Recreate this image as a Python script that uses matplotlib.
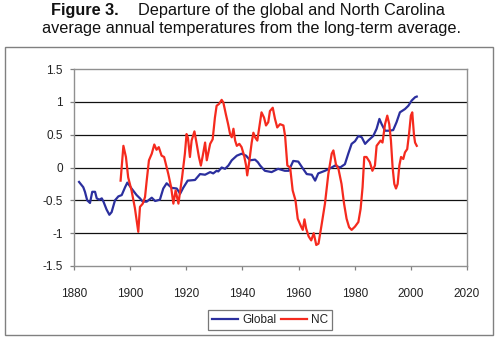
import matplotlib
matplotlib.use("Agg")
import matplotlib.pyplot as plt
from matplotlib.patches import Rectangle

plt.rcParams['font.family'] = ['Liberation Sans', 'DejaVu Sans']

# Global temperature departure (deg F), smoothed
global_years = [1881.8, 1883.3, 1883.9, 1884.7, 1885.7, 1886.5, 1887.5, 1888.1, 1889.0, 1889.9,
                1890.5, 1891.6, 1892.6, 1893.4, 1894.6, 1895.8, 1897.0, 1898.2, 1899.0, 1900.5,
                1902.3, 1903.5, 1904.5, 1905.9, 1907.7, 1908.9, 1910.6, 1911.8, 1913.0, 1914.8,
                1916.6, 1917.8, 1918.9, 1920.5, 1923.1, 1924.9, 1926.7, 1928.5, 1929.6, 1930.8,
                1931.4, 1932.6, 1933.8, 1935.0, 1936.2, 1938.0, 1939.7, 1941.3, 1942.7, 1944.5,
                1945.5, 1946.3, 1948.0, 1950.4, 1952.7, 1955.1, 1956.5, 1958.1, 1959.9, 1961.3,
                1962.9, 1964.7, 1965.9, 1967.0, 1969.4, 1971.8, 1973.0, 1974.8, 1976.5, 1977.7,
                1978.9, 1980.1, 1981.3, 1982.5, 1983.7, 1984.8, 1986.6, 1987.8, 1988.8, 1989.6,
                1990.8, 1992.3, 1993.7, 1994.9, 1996.1, 1997.9, 1999.1, 2000.3, 2001.5, 2002.1]
global_vals = [-0.22, -0.30, -0.37, -0.50, -0.54, -0.37, -0.37, -0.47, -0.49, -0.47,
               -0.52, -0.64, -0.72, -0.68, -0.50, -0.44, -0.42, -0.30, -0.23, -0.32,
               -0.42, -0.47, -0.52, -0.52, -0.46, -0.51, -0.49, -0.32, -0.24, -0.31,
               -0.32, -0.40, -0.31, -0.20, -0.19, -0.10, -0.11, -0.07, -0.09, -0.05,
               -0.06, 0.00, -0.02, 0.03, 0.11, 0.18, 0.21, 0.18, 0.11, 0.12,
               0.08, 0.03, -0.05, -0.07, -0.02, -0.05, -0.05, 0.10, 0.09, 0.00,
               -0.10, -0.11, -0.20, -0.09, -0.05, 0.00, 0.03, 0.00, 0.05, 0.21,
               0.36, 0.40, 0.48, 0.46, 0.36, 0.41, 0.48, 0.59, 0.74, 0.66,
               0.56, 0.56, 0.57, 0.69, 0.84, 0.89, 0.94, 1.02, 1.07, 1.08]

# North Carolina temperature departure (deg F), smoothed
nc_years = [1896.6, 1897.6, 1898.5, 1899.3, 1900.5, 1901.7, 1902.9, 1903.5, 1904.5, 1905.3,
            1905.9, 1906.7, 1907.7, 1908.6, 1909.4, 1910.2, 1911.2, 1912.1, 1913.6, 1914.6,
            1915.4, 1916.2, 1917.2, 1918.5, 1919.5, 1920.1, 1920.6, 1921.3, 1921.9, 1922.9,
            1923.7, 1924.5, 1925.2, 1926.0, 1926.7, 1927.3, 1928.5, 1929.4, 1930.2, 1930.8,
            1931.7, 1932.6, 1933.2, 1934.1, 1934.9, 1935.6, 1936.2, 1936.8, 1937.4, 1938.0,
            1938.9, 1939.7, 1940.6, 1941.3, 1941.7, 1942.4, 1943.3, 1943.9, 1944.5, 1945.3,
            1946.0, 1946.8, 1947.7, 1948.4, 1949.2, 1949.8, 1950.8, 1951.6, 1952.4, 1953.4,
            1954.6, 1955.2, 1956.0, 1957.0, 1957.9, 1958.9, 1959.7, 1960.9, 1961.5, 1962.1,
            1962.7, 1963.6, 1964.5, 1965.4, 1966.3, 1967.1, 1968.1, 1969.4, 1970.6, 1971.8,
            1972.4, 1973.3, 1974.2, 1975.3, 1976.2, 1977.1, 1978.0, 1978.9, 1980.1, 1981.3,
            1982.1, 1982.8, 1983.4, 1984.2, 1985.4, 1986.3, 1987.2, 1987.8, 1989.2, 1989.9,
            1990.8, 1991.6, 1992.3, 1992.9, 1993.5, 1994.1, 1994.7, 1995.3, 1995.9, 1996.5,
            1997.3, 1997.9, 1998.7, 1999.4, 2000.0, 2000.5, 2001.1, 2001.5, 2002.1]
nc_vals = [-0.20, 0.33, 0.16, -0.15, -0.35, -0.62, -0.98, -0.60, -0.55, -0.45,
           -0.20, 0.11, 0.21, 0.35, 0.27, 0.31, 0.18, 0.16, -0.10, -0.30,
           -0.55, -0.35, -0.55, -0.15, 0.21, 0.51, 0.45, 0.16, 0.41, 0.55,
           0.36, 0.16, 0.03, 0.21, 0.38, 0.11, 0.36, 0.43, 0.76, 0.94,
           0.97, 1.03, 0.99, 0.81, 0.66, 0.51, 0.46, 0.59, 0.41, 0.33,
           0.36, 0.31, 0.18, 0.03, -0.12, 0.08, 0.38, 0.53, 0.46, 0.41,
           0.61, 0.84, 0.76, 0.64, 0.69, 0.86, 0.91, 0.74, 0.61, 0.66,
           0.64, 0.48, 0.03, 0.00, -0.35, -0.50, -0.78, -0.90, -0.95, -0.79,
           -0.93, -1.05, -1.11, -1.00, -1.18, -1.16, -0.90, -0.55, -0.10, 0.21,
           0.26, 0.05, -0.02, -0.25, -0.55, -0.78, -0.91, -0.95, -0.90, -0.83,
           -0.63, -0.30, 0.16, 0.16, 0.08, -0.05, 0.03, 0.33, 0.41, 0.38,
           0.66, 0.79, 0.66, 0.41, 0.00, -0.25, -0.32, -0.25, 0.03, 0.16,
           0.13, 0.23, 0.28, 0.53, 0.79, 0.84, 0.50, 0.38, 0.33]

x_ticks = [1880, 1900, 1920, 1940, 1960, 1980, 2000, 2020]
y_ticks = [-1.5, -1, -0.5, 0, 0.5, 1, 1.5]
y_labels = ['-1.5', '-1', '-0.5', '0', '0.5', '1', '1.5']

title_bold = "Figure 3."
title_rest = "Departure of the global and North Carolina"
title_line2 = "average annual temperatures from the long-term average."

W, H = 500, 342
fig = plt.figure(figsize=(W / 100, H / 100), dpi=100)
fig.patch.set_facecolor('white')

# outer chart border
fig.patches.append(Rectangle((5 / W, 1 - 335 / H), 488 / W, 288 / H,
                             transform=fig.transFigure, fill=False,
                             edgecolor='#808080', linewidth=1.0))

ax = fig.add_axes([74 / W, 1 - 266 / H, (467 - 74) / W, (266 - 69) / H])
ax.plot(global_years, global_vals, color='#2B2F9E', linewidth=1.6, label='Global')
ax.plot(nc_years, nc_vals, color='#F52A1E', linewidth=1.6, label='NC')

ax.set_xlim(1880, 2020)
ax.set_ylim(-1.5, 1.5)
ax.set_xticks(x_ticks)
ax.set_xticklabels([str(t) for t in x_ticks])
ax.set_yticks(y_ticks)
ax.set_yticklabels(y_labels)
for y in [-1, -0.5, 0, 0.5, 1]:
    ax.axhline(y, color='#111111', linewidth=0.9, zorder=0.5)
for s in ax.spines.values():
    s.set_color('#909090')
    s.set_linewidth(1.0)
ax.tick_params(axis='both', direction='out', length=3, width=0.9, color='#808080',
               labelsize=8.5, labelcolor='#222222')
ax.tick_params(axis='x', pad=13)
ax.tick_params(axis='y', pad=5)

leg = ax.legend(loc='center', bbox_to_anchor=(270 / W, 1 - 320 / H),
                bbox_transform=fig.transFigure, ncol=2, frameon=True, fancybox=False,
                fontsize=8.5, handlelength=2.2, handletextpad=0.35, columnspacing=0.35,
                borderpad=0.35, borderaxespad=0)
leg.get_frame().set_edgecolor('#555555')
leg.get_frame().set_linewidth(0.9)
for t in leg.get_texts():
    t.set_color('#222222')

# two-line title; second line sized to span its width, first line shares its size
renderer = fig.canvas.get_renderer()
line2 = fig.text(251 / W, 1 - 28 / H, title_line2, fontsize=10, va='center',
                 ha='center', color='#111111')
w2 = line2.get_window_extent(renderer).width
fs = 10 * 420 / w2
line2.set_fontsize(fs)

bold = fig.text(0, 1 - 11 / H, title_bold, fontsize=fs, fontweight='bold',
                va='center', ha='left', color='#111111')
rest = fig.text(0, 1 - 11 / H, title_rest, fontsize=fs, va='center', ha='left',
                color='#111111')
wb = bold.get_window_extent(renderer).width
wr = rest.get_window_extent(renderer).width
gap = 0.9 * fs * 100 / 72 * 1.3
x_right = 445
rest.set_x((x_right - wr) / W)
bold.set_x((x_right - wr - gap - wb) / W)

fig.savefig('out.png', dpi=100)
